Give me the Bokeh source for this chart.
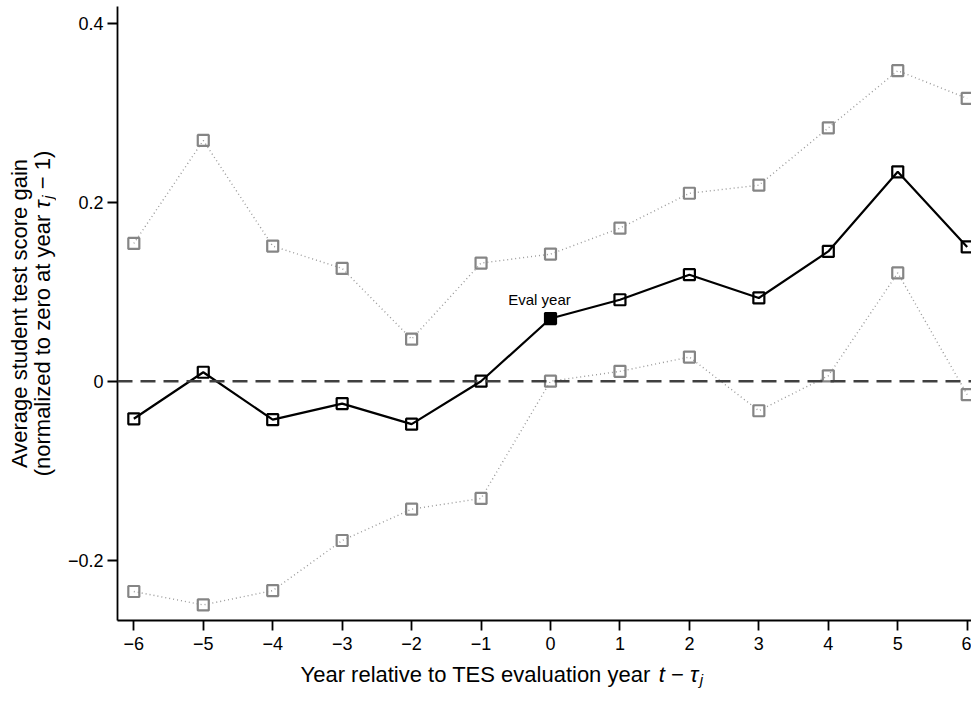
import math
from bokeh.plotting import figure
from bokeh.layouts import row, column
from bokeh.models import Span, Label, FixedTicker, Range1d, CustomJSTickFormatter
from bokeh.embed import file_html
from bokeh.resources import INLINE

years = [-6, -5, -4, -3, -2, -1, 0, 1, 2, 3, 4, 5, 6]
estimate = [-0.042, 0.010, -0.043, -0.025, -0.048, 0.000, 0.070, 0.091, 0.119, 0.093, 0.145, 0.234, 0.150]
upper = [0.154, 0.269, 0.151, 0.126, 0.047, 0.132, 0.142, 0.171, 0.210, 0.219, 0.283, 0.347, 0.316]
lower = [-0.235, -0.250, -0.234, -0.178, -0.143, -0.131, 0.000, 0.011, 0.027, -0.033, 0.006, 0.121, -0.015]
y_ticks = [-0.2, 0.0, 0.2, 0.4]
eval_year = 0
eval_text = "Eval year"
x_title = "Year relative to TES evaluation year"
y_title_1 = "Average student test score gain"
y_title_2 = "(normalized to zero at year"

FONT = "Liberation Sans"
NB = "\u00a0"
MINUS = "\u2212"
TAU = "\u03c4"
TOTAL_W, TOTAL_H = 971, 694
LEFT_W = 56
MAIN_H = 658
BOTTOM_H = TOTAL_H - MAIN_H
FRAME_L, FRAME_T, FRAME_B = 117, 6, 620

xr = Range1d(-6.235, 6.062)
yr = Range1d(-0.2674, 0.4187)

p = figure(width=TOTAL_W - LEFT_W, height=MAIN_H, x_range=xr, y_range=yr,
           output_backend="svg", toolbar_location=None,
           min_border_left=FRAME_L - LEFT_W, min_border_right=0, min_border_top=FRAME_T,
           min_border_bottom=MAIN_H - FRAME_B)
p.outline_line_color = None
p.xgrid.visible = False
p.ygrid.visible = False
p.background_fill_color = "white"
p.border_fill_color = "white"

fmt = CustomJSTickFormatter(code="return (Math.round(tick*10)/10).toString().replace('-', '\u2212');")
p.xaxis.ticker = FixedTicker(ticks=years)
p.yaxis.ticker = FixedTicker(ticks=y_ticks)
p.xaxis.formatter = fmt
p.yaxis.formatter = fmt
for ax in (p.xaxis, p.yaxis):
    ax.axis_line_width = 1.8
    ax.axis_line_color = "black"
    ax.major_tick_line_width = 1.8
    ax.major_tick_line_color = "black"
    ax.major_tick_out = 10
    ax.major_tick_in = 0
    ax.minor_tick_out = 0
    ax.minor_tick_in = 0
    ax.major_label_text_font = FONT
    ax.major_label_text_font_size = "18px"
    ax.major_label_text_color = "black"
p.xaxis.major_label_standoff = 6
p.yaxis.major_label_standoff = 4

# confidence bounds
p.line(years, upper, line_color="#9a9a9a", line_width=1.4, line_dash="1 3")
p.line(years, lower, line_color="#9a9a9a", line_width=1.4, line_dash="1 3")
p.scatter(years, upper, marker="square", size=11, fill_alpha=0, line_color="#858585", line_width=2.2)
p.scatter(years, lower, marker="square", size=11, fill_alpha=0, line_color="#858585", line_width=2.2)

# zero reference line
p.add_layout(Span(location=0, dimension="width", line_color="#404040", line_width=2.6, line_dash="15 8"))

# estimate
p.line(years, estimate, line_color="black", line_width=2.2)
fills = [1.0 if y == eval_year else 0.0 for y in years]
p.scatter(years, estimate, marker="square", size=11, fill_color="black", fill_alpha=fills,
          line_color="black", line_width=2.2)

p.add_layout(Label(x=eval_year, y=estimate[years.index(eval_year)], text=eval_text,
                   x_offset=-11, y_offset=19, text_align="center", text_baseline="middle",
                   text_font=FONT, text_font_size="15px", text_color="black"))


def text_fig(w, h, xrange, yrange, border_left=0):
    f = figure(width=w, height=h, x_range=xrange, y_range=yrange,
               output_backend="svg", toolbar_location=None,
               x_axis_location=None, y_axis_location=None,
               min_border_left=border_left, min_border_right=0, min_border_top=0, min_border_bottom=0)
    f.outline_line_color = None
    f.xgrid.visible = False
    f.ygrid.visible = False
    f.background_fill_color = "white"
    f.border_fill_color = "white"
    return f


fs = 22
sub = 15

# x-axis title (bottom strip); x in page pixels
bot = text_fig(TOTAL_W - LEFT_W, BOTTOM_H, Range1d(FRAME_L, TOTAL_W), Range1d(0, BOTTOM_H),
               border_left=FRAME_L - LEFT_W)
xs = 300
base = 20
w_main = 16.007 * fs
x_t = xs + w_main + 0.278 * fs
x_m = x_t + 0.278 * fs
x_tau = x_m + 1.14 * fs
x_j = x_tau + 0.45 * fs
pieces = [
    (x_title, xs, base, "normal", fs),
    ("t", x_t, base, "italic", fs),
    (NB + MINUS + NB, x_m, base, "normal", fs),
    (TAU, x_tau, base, "italic", fs),
    ("j", x_j, base - 5, "italic", sub),
]
for txt, xo, yo, style, size in pieces:
    bot.add_layout(Label(x=xo, y=yo, text=txt, text_align="left",
                         text_baseline="alphabetic", text_font=FONT, text_font_style=style,
                         text_font_size=f"{size}px", text_color="black"))

# y-axis title (left strip); y measured up from the page bottom
left = text_fig(LEFT_W, TOTAL_H, Range1d(0, LEFT_W), Range1d(0, TOTAL_H))
ang = math.pi / 2
ycen = TOTAL_H - 313
left.add_layout(Label(x=19, y=ycen, text=y_title_1, angle=ang, text_align="center",
                      text_baseline="middle", text_font=FONT, text_font_size=f"{fs}px",
                      text_color="black"))
wa = 11.893 * fs + 0.278 * fs
wt = 0.45 * fs
wj = 0.222 * sub
wb = 2.029 * fs
total = wa + wt + wj + wb
ys = ycen - total / 2
line2 = [
    (y_title_2, ys, 42, "normal", fs),
    (TAU, ys + wa, 42, "italic", fs),
    ("j", ys + wa + wt, 47, "italic", sub),
    (NB + MINUS + NB + "1)", ys + wa + wt + wj, 42, "normal", fs),
]
for txt, yo, xo, style, size in line2:
    left.add_layout(Label(x=xo, y=yo, text=txt, angle=ang, text_align="left",
                          text_baseline="middle", text_font=FONT, text_font_style=style,
                          text_font_size=f"{size}px", text_color="black"))

layout = row(left, column(p, bot, spacing=0), spacing=0)
open("out.html", "w").write(file_html(layout, INLINE))
